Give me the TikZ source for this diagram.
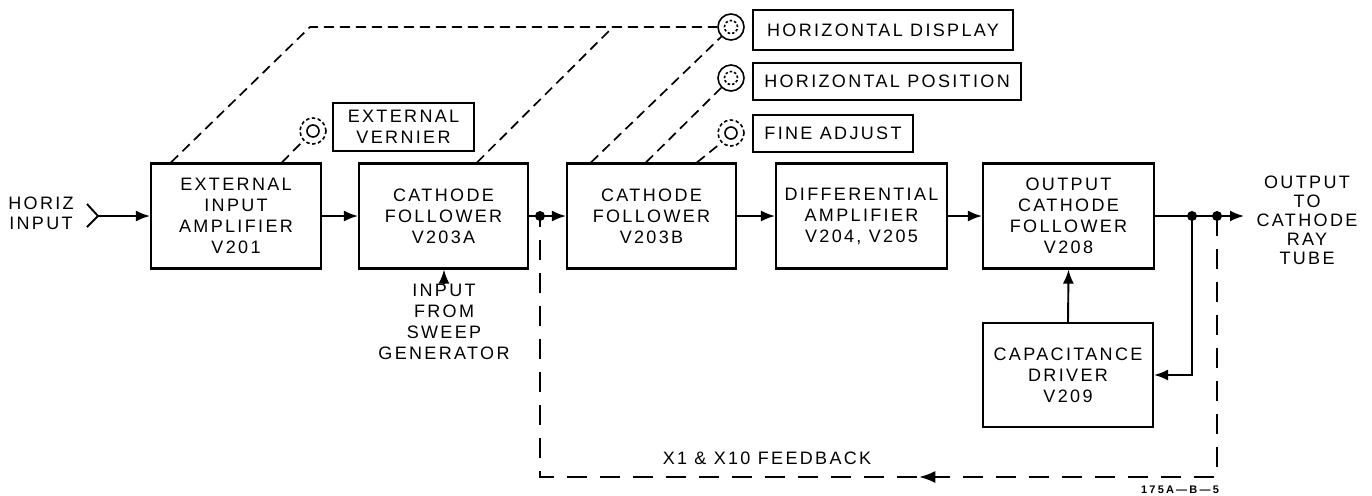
\documentclass[tikz,border=0pt]{standalone}
\usepackage{fontspec}
\usetikzlibrary{arrows.meta,decorations.markings,calc}
\newfontfamily\lett[LetterSpace=13]{Liberation Sans}
\newfontfamily\tagfont[LetterSpace=20]{Liberation Sans Bold}
\begin{document}
\begin{tikzpicture}[x=1pt,y=-1pt,
  blk/.style={draw, line width=2.1pt, inner sep=0pt, align=center, font=\lett\fontsize{18}{21}\selectfont},
  lbl/.style={draw, line width=2pt, inner sep=0pt, align=center, font=\lett\fontsize{18}{21}\selectfont},
  txt/.style={inner sep=0pt, align=center, font=\lett\fontsize{18}{20}\selectfont},
  wire/.style={line width=1.9pt},
  arr/.style={wire, -{Latex[length=14pt,width=11pt]}},
  ctl/.style={line width=1.7pt, dash pattern=on 10pt off 6pt},
  fb/.style={line width=1.7pt, dash pattern=on 20pt off 13pt},
  dot/.style={circle, fill, inner sep=0pt, minimum size=10pt},
  knob/.style={circle, inner sep=0pt, minimum size=26pt, line width=1.6pt},
  knobsolid/.style={knob, draw},
  knobdash/.style={knob, draw, dash pattern=on 3.5pt off 2.5pt},
  innersolid/.style={line width=1.6pt},
  innerdash/.style={line width=1.6pt, dash pattern=on 2.5pt off 2pt}
]
\useasboundingbox (0,0) rectangle (1372,495);

% main blocks
\node[blk, minimum width=170pt, minimum height=105pt] (eia) at (236,216) {EXTERNAL\\INPUT\\AMPLIFIER\\V201};
\node[blk, minimum width=169pt, minimum height=105pt] (cfa) at (443.5,216) {CATHODE\\FOLLOWER\\V203A};
\node[blk, minimum width=169pt, minimum height=105pt] (cfb) at (651.5,216) {CATHODE\\FOLLOWER\\V203B};
\node[blk, minimum width=171pt, minimum height=105pt] (dam) at (861.5,216) {DIFFERENTIAL\\AMPLIFIER\\V204, V205};
\node[blk, minimum width=171pt, minimum height=105pt] (ocf) at (1068.5,216) {OUTPUT\\CATHODE\\FOLLOWER\\V208};
\node[blk, minimum width=170pt, minimum height=104pt] (cd) at (1068,375) {CAPACITANCE\\DRIVER\\V209};

% control labels
\node[lbl, minimum width=141pt, minimum height=48pt] (ev) at (403.5,127) {EXTERNAL\\VERNIER};
\node[lbl, minimum width=260pt, minimum height=40pt] (hdl) at (883,30) {HORIZONTAL DISPLAY};
\node[lbl, minimum width=268pt, minimum height=37pt] (hpl) at (887,81.5) {HORIZONTAL POSITION};
\node[lbl, minimum width=160pt, minimum height=37pt] (fal) at (833,133.5) {FINE ADJUST};

% knobs
\node[knobdash] (evk) at (313,131) {};
\draw[innersolid] (evk.center) circle (6pt);
\node[knobsolid] (hdk) at (731,27) {};
\draw[innerdash] (hdk.center) circle (6.5pt);
\node[knobsolid] (hpk) at (731,78) {};
\draw[innerdash] (hpk.center) circle (6.5pt);
\node[knobdash] (fak) at (731,133) {};
\draw[innersolid] (fak.center) circle (6pt);

% texts
\node[txt] (hin) at (41,213) {HORIZ\\INPUT};
\node[txt, font=\lett\fontsize{18}{21}\selectfont] (swt) at (444,322) {INPUT\\FROM\\SWEEP\\GENERATOR};
\node[txt, font=\lett\fontsize{18}{19}\selectfont] (out) at (1307,220) {OUTPUT\\TO\\CATHODE\\RAY\\TUBE};
\node[txt] (fbt) at (767,458) {X1 \& X10 FEEDBACK};
\node[inner sep=0pt, font=\tagfont\fontsize{11}{12}\selectfont] (tag) at (1180,490) {175A—B—5};

% input chevron
\coordinate (chT) at (87,204);
\coordinate (chv) at (98,216);
\coordinate (chB) at (87,227);
\draw[wire] (chT) -- (chv) -- (chB);
\draw[arr] (chv) -- (eia.west);

% signal path
\node[dot] (dj) at (540,216) {};
\node[dot] (dA) at (1192,216) {};
\node[dot] (dB) at (1217,216) {};
\coordinate (outtip) at (1244,216);
\draw[arr] (eia.east) -- (cfa.west);
\draw[wire] (cfa.east) -- (dj.center);
\draw[arr] (dj.center) -- (cfb.west);
\draw[arr] (cfb.east) -- (dam.west);
\draw[arr] (dam.east) -- (ocf.west);
\draw[wire] (ocf.east) -- (dB.center);
\draw[arr] (dB.center) -- (outtip);
\draw[arr] (dA.center) |- (cd.east);
\draw[arr] (cd.north) -- (ocf.south);
\coordinate (sw) at (444,284);
\draw[arr] (sw) -- (sw |- cfa.south);

% feedback loop
\coordinate (fbR) at (1217,477);
\coordinate (fbL) at (540,477);
\draw[fb, postaction={decorate}, decoration={markings, mark=at position 0.466 with {\arrow{Latex[length=16pt,width=12pt]}}}]
  (dB.center) -- (fbR) -- (fbL) -- (dj.center);

% mechanical (dashed) control links
\coordinate (c1) at (310,27);
\coordinate (c2) at (613,27);
\draw[ctl] ([xshift=21pt]eia.north west) -- (c1) -- (hdk.west);
\draw[ctl] ([xshift=33.5pt]cfa.north) -- (c2);
\draw[ctl] ([xshift=132pt]eia.north west) -- (evk.south west);
\draw[ctl] ([xshift=25pt]cfb.north west) -- (hdk.south west);
\draw[ctl] ([xshift=80pt]cfb.north west) -- (hpk.south west);
\draw[ctl] ([xshift=131pt]cfb.north west) -- (fak.south west);
\end{tikzpicture}
\end{document}
